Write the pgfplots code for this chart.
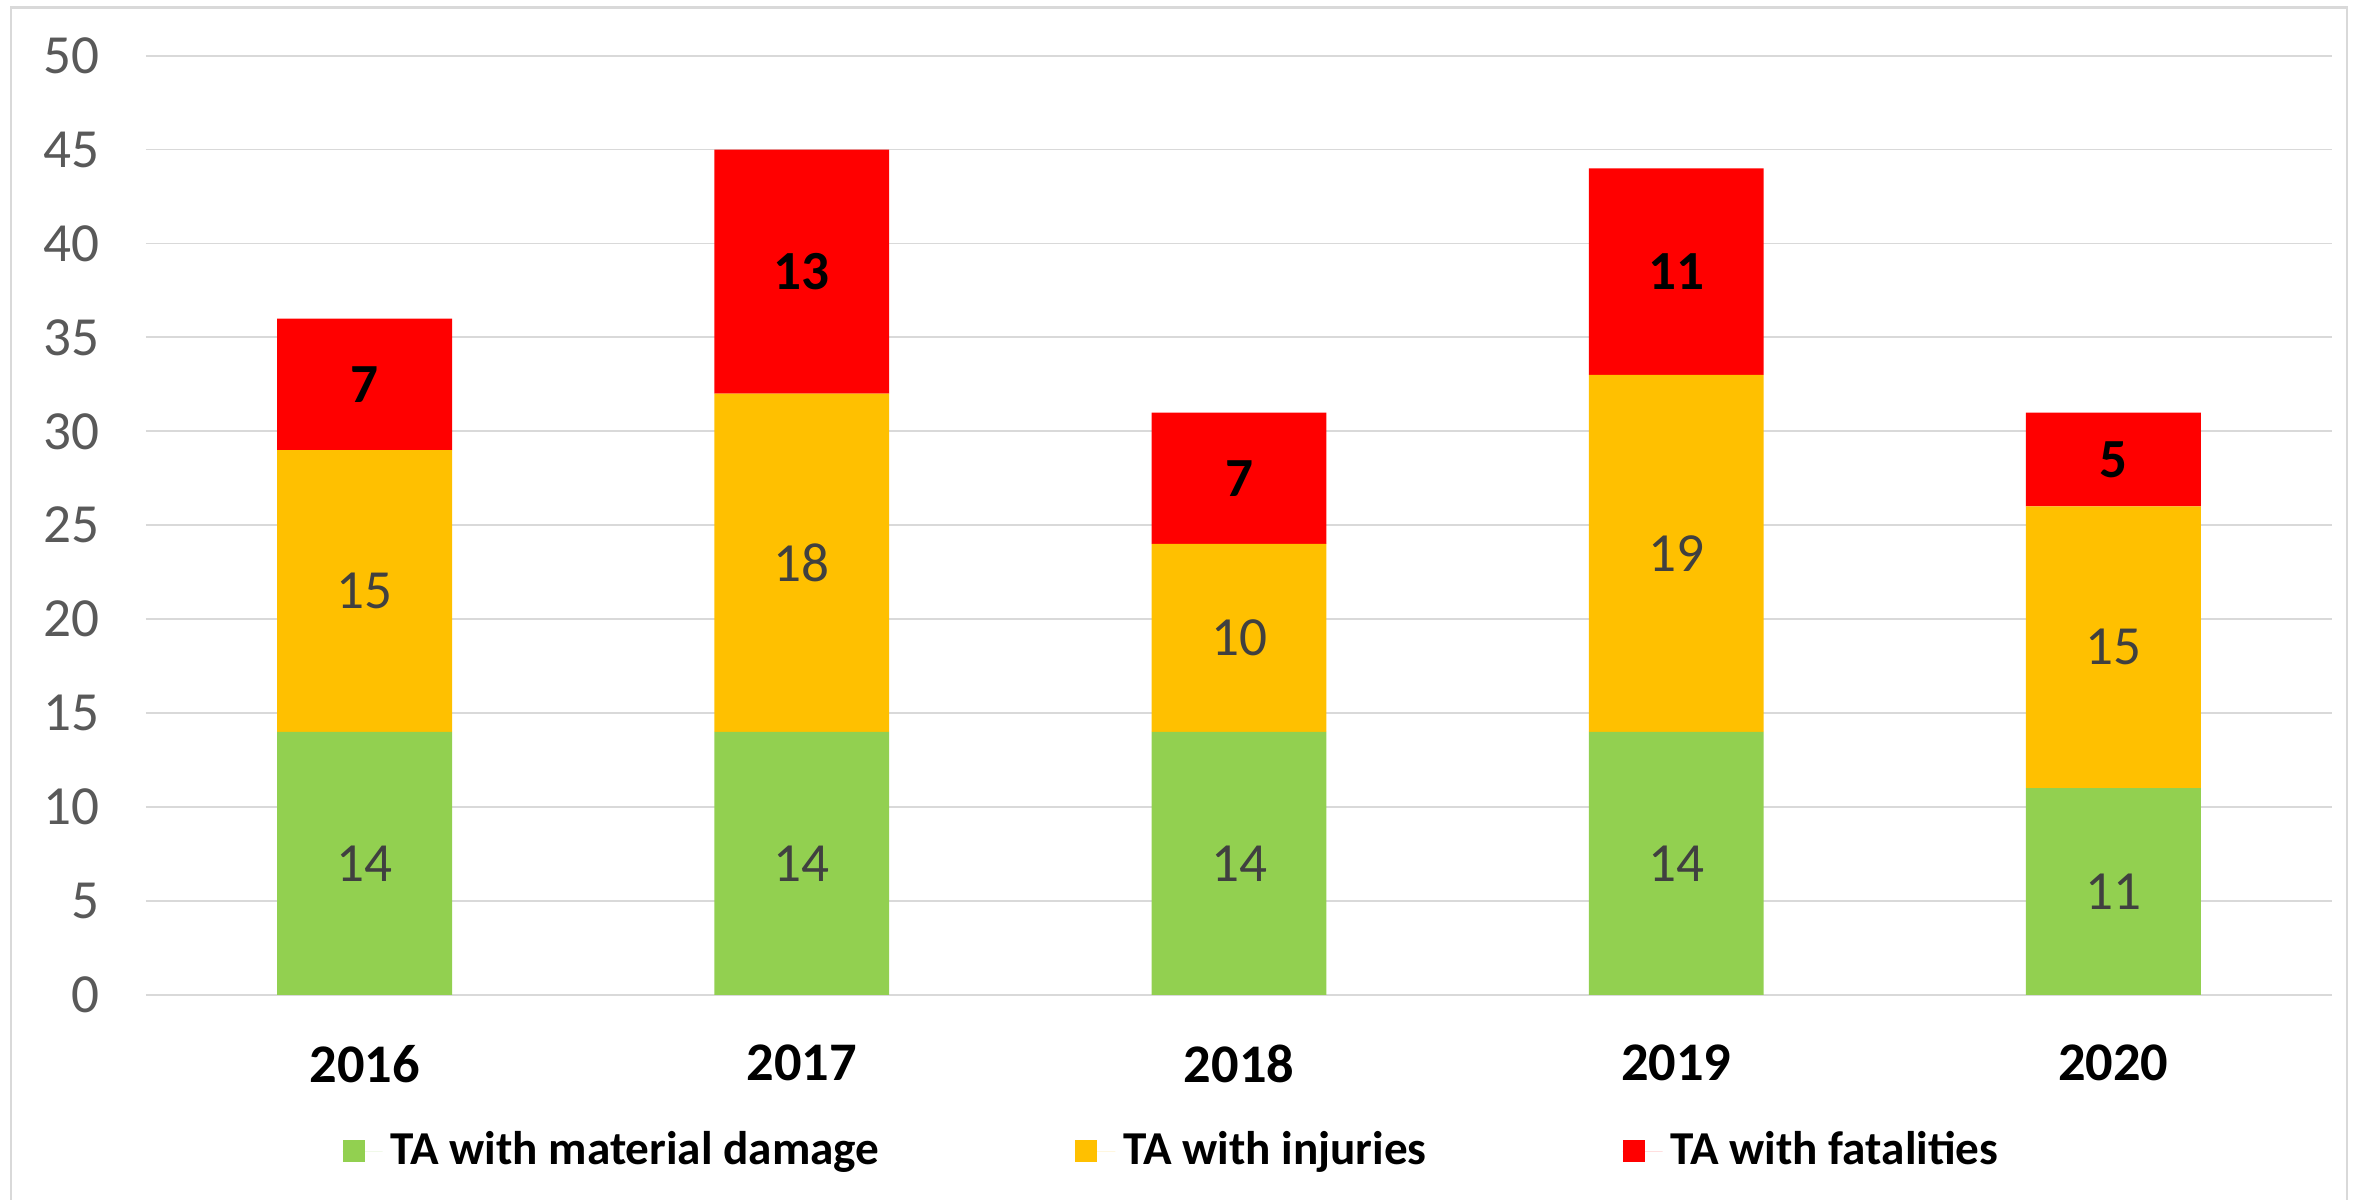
\documentclass[border=0pt]{standalone}
\usepackage{fontspec}
\setmainfont{Carlito}
\usepackage{pgfplots}
\pgfplotsset{compat=1.18}

\definecolor{cgreen}{HTML}{92D050}
\definecolor{corange}{HTML}{FFC000}
\definecolor{cred}{HTML}{FF0000}
\definecolor{gridgray}{HTML}{D9D9D9}
\definecolor{ticktext}{HTML}{595959}
\definecolor{labtext}{HTML}{404040}

% 1 px of the reference = 0.25pt
\pgfplotsset{
  seglabel/.style={
    nodes near coords, point meta=rawy,
    every node near coord/.append style={anchor=center, #1}
  },
  sqlegend/.style={legend image code/.code={
    \fill[##1] (0pt,-2.75pt) rectangle (5.5pt,2.75pt);
    \path (0pt,0pt) -- (10pt,0pt);}},
}

\begin{document}
\begin{tikzpicture}
\path[use as bounding box] (-36.5pt,-51.1pt) rectangle (552.5pt,248.7pt);
\draw[gridgray, line width=0.7pt] (-33.75pt,-70pt) -- (-33.75pt,246.9pt) -- (550.25pt,246.9pt) -- (550.25pt,-70pt);
\begin{axis}[
  at={(0pt,0pt)}, anchor=south west,
  scale only axis, width=546.5pt, height=234.8pt,
  ybar stacked, bar width=0.4,
  xmin=-0.5, xmax=4.5, ymin=0, ymax=50,
  xtick={0,1,2,3,4}, xticklabels={2016,2017,2018,2019,2020},
  ytick={0,5,...,50},
  axis line style={draw=none}, major tick length=0pt,
  ymajorgrids, grid style={gridgray, line width=0.45pt},
  /pgf/number format/assume math mode=true,
  yticklabel style={anchor=east, xshift=-8pt, text=ticktext, font=\fontsize{13.8}{16}\selectfont},
  xticklabel style={yshift=-9pt, text=black, font=\bfseries\fontsize{13.6}{16}\selectfont},
  legend columns=3,
  legend style={at={(rel axis cs:0.4705,-0.1665)}, anchor=center, draw=none, fill=none,
    font=\bfseries\fontsize{11.8}{14}\selectfont,
    /tikz/every even column/.append style={column sep=47pt}},
]
\addplot[fill=cgreen, draw=none, sqlegend,
  seglabel={text=labtext, font=\fontsize{13.8}{16}\selectfont}]
  coordinates {(0,14) (1,14) (2,14) (3,14) (4,11)};
\addplot[fill=corange, draw=none, sqlegend,
  seglabel={text=labtext, font=\fontsize{13.8}{16}\selectfont}]
  coordinates {(0,15) (1,18) (2,10) (3,19) (4,15)};
\addplot[fill=cred, draw=none, sqlegend,
  seglabel={text=black, font=\bfseries\fontsize{13.8}{16}\selectfont}]
  coordinates {(0,7) (1,13) (2,7) (3,11) (4,5)};
\legend{TA with material damage, TA with injuries, TA with fatalities}
\end{axis}
\end{tikzpicture}
\end{document}
